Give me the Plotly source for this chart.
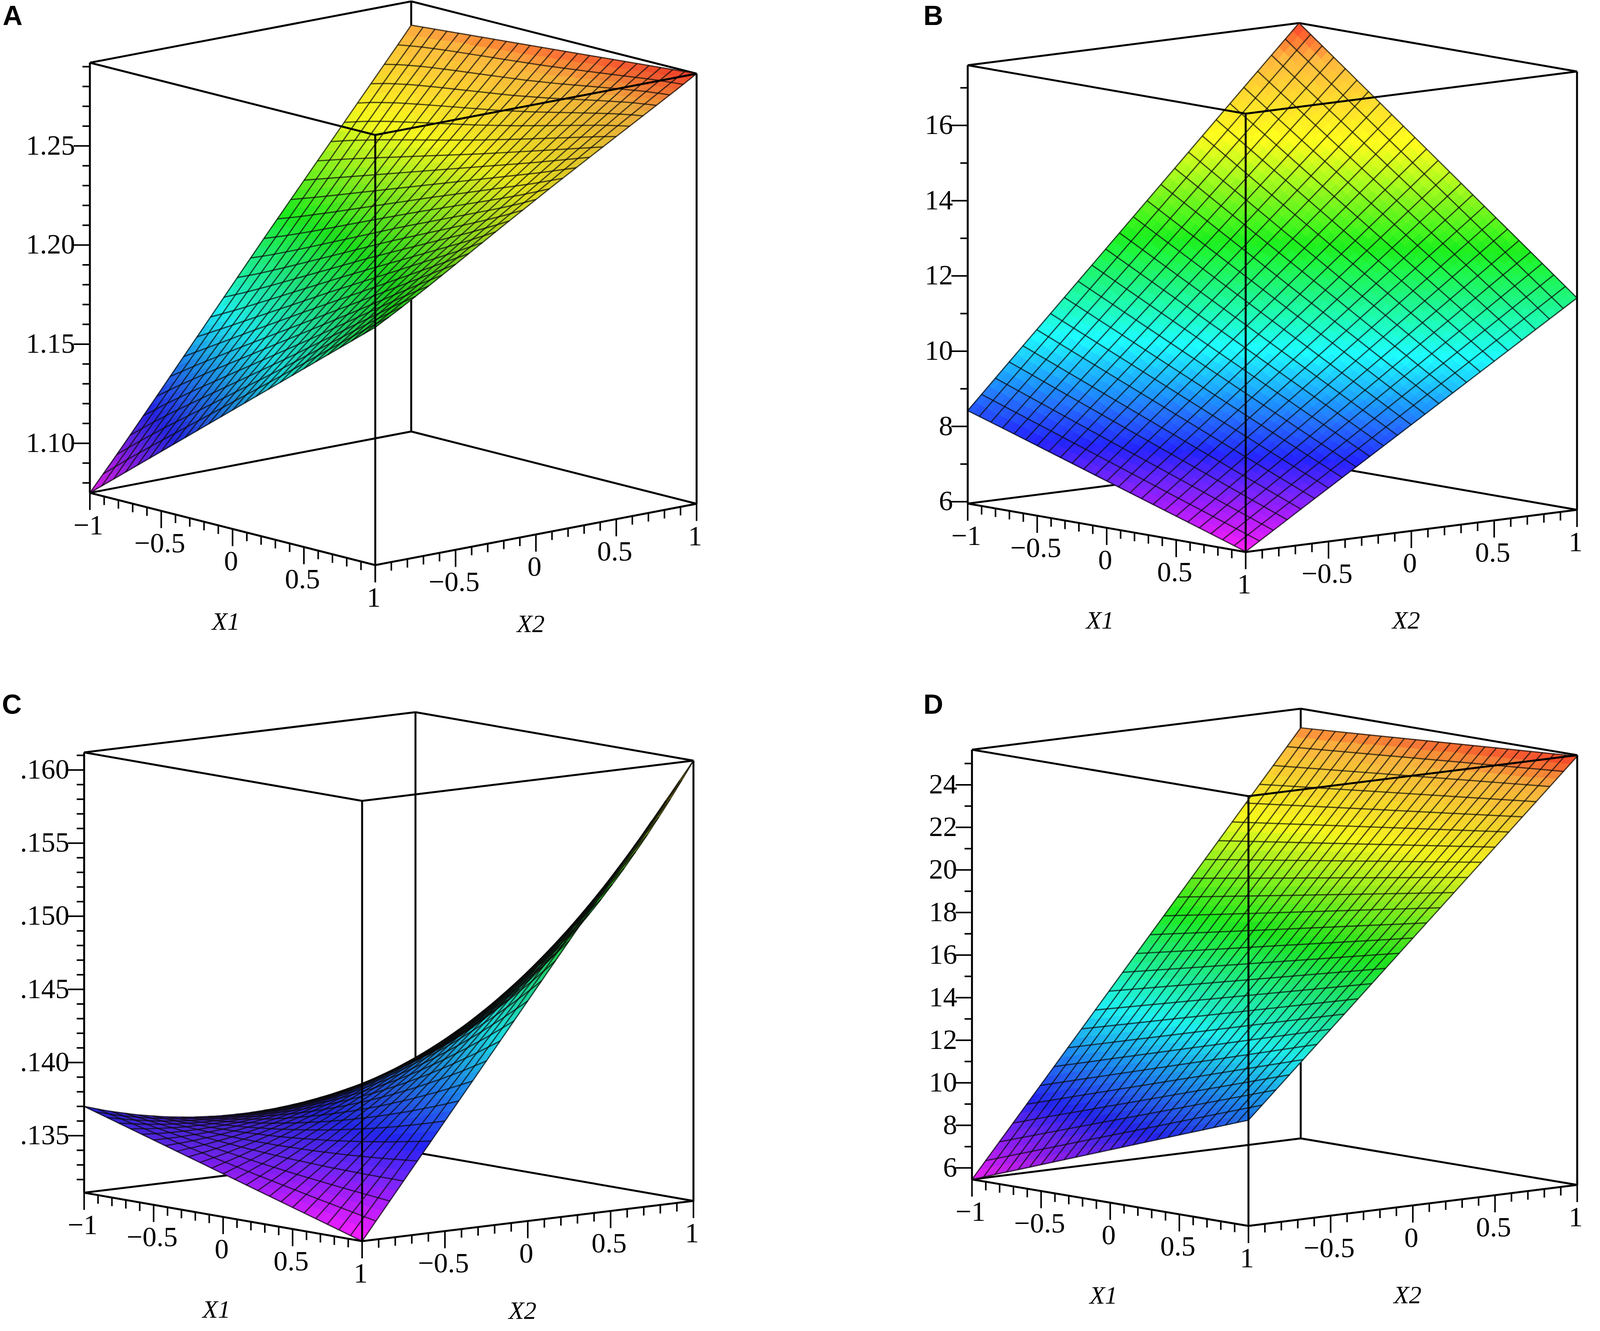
import numpy as np
import plotly.graph_objects as go

# The page cannot run WebGL scenes in time, so the four boxed 3D views are
# projected by hand (orthographic) and drawn with ordinary 2D scatter traces.

### DATA

x1 = [-1, -0.5, 0, 0.5, 1]
x2 = [-1, -0.5, 0, 0.5, 1]

# surface heights, rows follow X2, columns follow X1
z_a = [
    [1.075, 1.105, 1.135, 1.165, 1.195],
    [1.126, 1.150, 1.173, 1.196, 1.219],
    [1.178, 1.194, 1.211, 1.227, 1.244],
    [1.229, 1.239, 1.248, 1.258, 1.268],
    [1.280, 1.283, 1.286, 1.289, 1.292],
]
z_b = [
    [8.42, 7.81, 7.19, 6.58, 5.96],
    [10.72, 9.88, 9.04, 8.20, 7.37],
    [13.01, 11.95, 10.89, 9.83, 8.77],
    [15.31, 14.02, 12.74, 11.46, 10.18],
    [17.60, 16.10, 14.59, 13.09, 11.58],
]
z_c = [
    [0.1370, 0.13553, 0.13405, 0.13258, 0.1311],
    [0.1356, 0.13579, 0.13636, 0.13731, 0.13863],
    [0.1352, 0.13681, 0.13918, 0.14229, 0.14615],
    [0.1358, 0.13858, 0.14249, 0.14752, 0.15368],
    [0.1374, 0.14110, 0.14630, 0.15300, 0.1612],
]
z_d = [
    [5.46, 6.70, 7.95, 9.19, 10.43],
    [10.28, 11.27, 12.25, 13.24, 14.22],
    [15.11, 15.83, 16.56, 17.29, 18.02],
    [19.93, 20.40, 20.87, 21.34, 21.81],
    [24.75, 24.96, 25.18, 25.39, 25.60],
]

z_range_a = [1.075, 1.292]
z_range_b = [5.95, 17.6]
z_range_c = [0.1311, 0.1612]
z_range_d = [5.46, 25.65]

# ticks
x_major = [-1, -0.5, 0, 0.5, 1]
x1_labels = ["\u22121", "\u22120.5", "0", "0.5", "1"]
x2_labels = ["", "\u22120.5", "0", "0.5", "1"]
x_minor_step = 0.1

z_major_a = [1.10, 1.15, 1.20, 1.25]
z_labels_a = ["1.10", "1.15", "1.20", "1.25"]
z_major_b = [6, 8, 10, 12, 14, 16]
z_labels_b = ["6", "8", "10", "12", "14", "16"]
z_major_c = [0.135, 0.140, 0.145, 0.150, 0.155, 0.160]
z_labels_c = [".135", ".140", ".145", ".150", ".155", ".160"]
z_major_d = [6, 8, 10, 12, 14, 16, 18, 20, 22, 24]
z_labels_d = ["6", "8", "10", "12", "14", "16", "18", "20", "22", "24"]

panel_labels = ["A", "B", "C", "D"]

### STYLE

W, H = 4317, 3407
hue_pos = [0.0, 0.17, 0.37, 0.57, 0.77, 0.93, 1.0]
hue_rgb = np.array(
    [[255, 0, 255], [10, 10, 255], [0, 255, 255], [0, 240, 0],
     [255, 255, 0], [255, 175, 40], [255, 35, 15]],
    dtype=float,
)
n_fine = 49        # render subdivisions per side
n_mesh = 25        # mesh lines per direction (Maple grid)
tick_font = dict(family="Liberation Serif", size=72, color="black")
title_font = dict(family="Liberation Serif", size=64, color="black")
letter_font = dict(family="Liberation Sans", size=70, color="black")

# pixel position of the box centre and pixel shift for one unit along each axis
views = [
    dict(c=(1061, 725), e1=(385, 92.5), e2=(433.5, -78.5), ez=-550.5),
    dict(c=(3433, 736), e1=(375, 62), e2=(447, -54), ez=-561),
    dict(c=(1049, 2500), e1=(375, 62), e2=(447, -51.5), ez=-563.5),
    dict(c=(3439, 2476), e1=(373, 59.5), e2=(443.5, -52.5), ez=-550),
]
letter_pos = [(34, 40), (2518, 40), (32, 1803), (2518, 1803)]


def lagrange(nodes, t):
    nodes = np.asarray(nodes, dtype=float)
    t = np.atleast_1d(np.asarray(t, dtype=float))
    w = np.ones((len(t), len(nodes)))
    for j in range(len(nodes)):
        for m in range(len(nodes)):
            if m != j:
                w[:, j] *= (t - nodes[m]) / (nodes[j] - nodes[m])
    return w


def surf_at(z, p1, p2):
    w1 = lagrange(x1, p1)
    w2 = lagrange(x2, p2)
    return np.einsum("na,ab,nb->n", w2, np.asarray(z, dtype=float), w1)


def project(view, p1, p2, zn):
    cx, cy = view["c"]
    u = cx + view["e1"][0] * p1 + view["e2"][0] * p2
    v = cy + view["e1"][1] * p1 + view["e2"][1] * p2 + view["ez"] * zn
    return u, v


def view_dir(view):
    r1 = np.array([view["e1"][0], view["e2"][0], 0.0])
    r2 = np.array([view["e1"][1], view["e2"][1], view["ez"]])
    d = np.cross(r1, r2)
    if d[2] < 0:
        d = -d
    return d / np.linalg.norm(d)


def hue(t):
    t = np.clip(t, 0, 1)
    return np.array([np.interp(t, hue_pos, hue_rgb[:, k]) for k in range(3)])


def box_edges(view):
    corners = [(a, b, c) for a in (-1, 1) for b in (-1, 1) for c in (-1, 1)]
    back, front = [], []
    for i, p in enumerate(corners):
        for q in corners[i + 1:]:
            if sum(abs(p[k] - q[k]) for k in range(3)) != 2:
                continue
            u, v = project(view, np.array([p[0], q[0]]), np.array([p[1], q[1]]), np.array([p[2], q[2]]))
            is_back = (p[0] == -1 and p[1] == 1) or (q[0] == -1 and q[1] == 1)
            (back if is_back else front).append((list(u), list(v)))
    return back, front


def segments_trace(segs, color, width):
    xs, ys = [], []
    for u, v in segs:
        xs += list(u) + [None]
        ys += list(v) + [None]
    return go.Scatter(x=xs, y=ys, mode="lines", line=dict(color=color, width=width),
                      hoverinfo="skip", showlegend=False)


def surface_traces(view, z, zr, cmax):
    zmin, zmax = zr
    t = np.linspace(-1, 1, n_fine)
    P1, P2 = np.meshgrid(t, t)
    Z = surf_at(z, P1.ravel(), P2.ravel()).reshape(P1.shape)
    zn = 2 * (Z - zmin) / (zmax - zmin) - 1
    U, V = project(view, P1, P2, zn)
    d = view_dir(view)
    gy, gx = np.gradient(zn, t, t)
    nrm = np.stack([-gx, -gy, np.ones_like(gx)])
    nrm /= np.linalg.norm(nrm, axis=0)
    ndot = np.abs(np.tensordot(d, nrm, axes=1))
    depth = d[0] * P1 + d[1] * P2 + d[2] * zn

    groups = {}
    for i in range(n_fine - 1):
        for j in range(n_fine - 1):
            zc = Z[i:i + 2, j:j + 2].mean()
            shade = min(1.0, 0.72 + 0.5 * ndot[i:i + 2, j:j + 2].mean())
            rgb = 0.11 * 255 + 0.89 * hue((zc - zmin) / (cmax - zmin)) * shade
            rgb = np.clip(np.round(rgb / 6) * 6, 0, 255).astype(int)
            key = "rgb(%d,%d,%d)" % tuple(rgb)
            g = groups.setdefault(key, dict(x=[], y=[], depth=[]))
            ii = [i, i, i + 1, i + 1, i]
            jj = [j, j + 1, j + 1, j, j]
            g["x"] += [U[a, b] for a, b in zip(ii, jj)] + [None]
            g["y"] += [V[a, b] for a, b in zip(ii, jj)] + [None]
            g["depth"].append(depth[i:i + 2, j:j + 2].mean())

    traces = []
    for key, g in sorted(groups.items(), key=lambda kv: np.mean(kv[1]["depth"])):
        traces.append(go.Scatter(
            x=g["x"], y=g["y"], mode="lines", fill="toself", fillcolor=key,
            line=dict(color=key, width=1.5), hoverinfo="skip", showlegend=False,
        ))

    # mesh lines
    tm = np.linspace(-1, 1, n_mesh)
    segs = []
    for c in tm:
        for along_x1 in (True, False):
            p1 = t if along_x1 else np.full_like(t, c)
            p2 = np.full_like(t, c) if along_x1 else t
            zz = surf_at(z, p1, p2)
            u, v = project(view, p1, p2, 2 * (zz - zmin) / (zmax - zmin) - 1)
            segs.append((u, v))
    traces.append(segments_trace(segs, "rgba(10,10,10,0.7)", 3.2))
    return traces


def axes_traces(view, zr, z_major, z_labels):
    zmin, zmax = zr
    to_n = lambda val: 2 * (np.asarray(val, dtype=float) - zmin) / (zmax - zmin) - 1
    segs = []
    texts = dict(x=[], y=[], text=[])
    zlab = dict(x=[], y=[], text=[])

    minor = np.round(np.arange(-1, 1.0001, x_minor_step), 6)
    for val in minor:
        major = np.isclose(val, np.asarray(x_major)).any()
        ln = 44 if major else 22
        for p1, p2 in ((val, -1.0), (1.0, val)):
            u, v = project(view, p1, p2, -1.0)
            segs.append(([u, u], [v, v + ln]))
    for val, lab1, lab2 in zip(x_major, x1_labels, x2_labels):
        u, v = project(view, val, -1.0, -1.0)
        texts["x"].append(u - 4)
        texts["y"].append(v + 88)
        texts["text"].append(lab1)
        u, v = project(view, 1.0, val, -1.0)
        texts["x"].append(u - 4)
        texts["y"].append(v + 88)
        texts["text"].append(lab2)

    step = z_major[1] - z_major[0]
    zminor_step = step / 5 if step < 1 else 1
    start = np.ceil(zmin / zminor_step - 1e-6) * zminor_step
    for val in np.arange(start, zmax + 1e-9, zminor_step):
        major = np.isclose(val, np.asarray(z_major), atol=zminor_step * 1e-3).any()
        ln = 44 if major else 20
        u, v = project(view, -1.0, -1.0, to_n(val))
        segs.append(([u - ln, u], [v, v]))
    for val, lab in zip(z_major, z_labels):
        u, v = project(view, -1.0, -1.0, to_n(val))
        zlab["x"].append(u - 40)
        zlab["y"].append(v + 4)
        zlab["text"].append(lab)

    titles = dict(x=[], y=[], text=[])
    u, v = project(view, 0.0, -1.0, -1.0)
    titles["x"].append(u - 18)
    titles["y"].append(v + 242)
    titles["text"].append("<i>X1</i>")
    u, v = project(view, 1.0, 0.0, -1.0)
    titles["x"].append(u - 14)
    titles["y"].append(v + 234)
    titles["text"].append("<i>X2</i>")

    out = [segments_trace(segs, "black", 4)]
    out.append(go.Scatter(x=texts["x"], y=texts["y"], text=texts["text"], mode="text",
                          textposition="middle center", textfont=tick_font,
                          hoverinfo="skip", showlegend=False))
    out.append(go.Scatter(x=zlab["x"], y=zlab["y"], text=zlab["text"], mode="text",
                          textposition="middle left", textfont=tick_font,
                          hoverinfo="skip", showlegend=False))
    out.append(go.Scatter(x=titles["x"], y=titles["y"], text=titles["text"], mode="text",
                          textposition="middle center", textfont=title_font,
                          hoverinfo="skip", showlegend=False))
    return out


panels = [
    (z_a, z_range_a, z_range_a[1], z_major_a, z_labels_a),
    (z_b, z_range_b, z_range_b[1], z_major_b, z_labels_b),
    (z_c, z_range_c, 0.166, z_major_c, z_labels_c),
    (z_d, z_range_d, z_range_d[1], z_major_d, z_labels_d),
]

fig = go.Figure()
for view, (z, zr, cmax, zmaj, zlab) in zip(views, panels):
    back, front = box_edges(view)
    fig.add_trace(segments_trace(back, "black", 5))
    for tr in surface_traces(view, z, zr, cmax):
        fig.add_trace(tr)
    fig.add_trace(segments_trace(front, "black", 5))
    for tr in axes_traces(view, zr, zmaj, zlab):
        fig.add_trace(tr)

for label, (lx, ly) in zip(panel_labels, letter_pos):
    fig.add_annotation(text="<b>%s</b>" % label, x=lx, y=ly, xref="x", yref="y",
                       showarrow=False, font=letter_font, xanchor="center", yanchor="middle")

fig.update_layout(
    width=W,
    height=H,
    margin=dict(l=0, r=0, t=0, b=0),
    paper_bgcolor="white",
    plot_bgcolor="white",
    showlegend=False,
    xaxis=dict(range=[0, W], visible=False, fixedrange=True),
    yaxis=dict(range=[H, 0], visible=False, fixedrange=True),
)

# fit the figure to the real browser viewport (no body margin, no scrollbars)
fit_viewport = """
var gd = document.getElementById('{plot_id}');
document.documentElement.style.margin = '0';
document.body.style.margin = '0';
document.body.style.overflow = 'hidden';
document.documentElement.style.overflow = 'hidden';
var w = window.innerWidth, h = window.innerHeight;
if (w > 1000 && h > 1000) {
    gd.style.width = w + 'px';
    gd.style.height = h + 'px';
    Plotly.relayout(gd, {width: w, height: h});
}
"""

fig.write_html("out.html", post_script=fit_viewport, config={"displayModeBar": False})
